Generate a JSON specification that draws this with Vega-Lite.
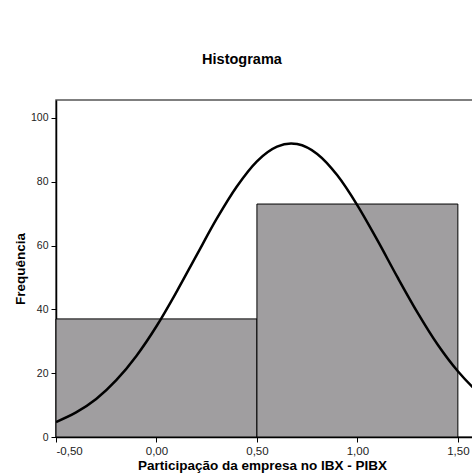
{
  "$schema": "https://vega.github.io/schema/vega-lite/v6.json",
  "width": 430,
  "height": 337,
  "autosize": {"type": "none"},
  "padding": {"left": 56, "top": 100, "right": 0, "bottom": 39},
  "background": "white",
  "config": {
    "locale": {"number": {"decimal": ",", "thousands": ".", "grouping": [3], "currency": ["", ""], "minus": "-"}},
    "view": {"stroke": "#555555", "strokeWidth": 1.5},
    "font": "Liberation Sans"
  },
  "title": {
    "text": "Histograma",
    "fontSize": 14.5,
    "fontWeight": "bold",
    "font": "Liberation Sans",
    "color": "black",
    "anchor": "middle",
    "dx": -29,
    "offset": 33
  },
  "datasets": {
    "bins": [
      {"bin_start": -0.5, "bin_end": 0.5, "count": 37},
      {"bin_start": 0.5, "bin_end": 1.5, "count": 73}
    ],
    "curve": [
      {"x": -0.5, "y": 4.7},
      {"x": -0.4, "y": 7.7},
      {"x": -0.3, "y": 11.9},
      {"x": -0.2, "y": 17.8},
      {"x": -0.1, "y": 25.4},
      {"x": 0.0, "y": 34.7},
      {"x": 0.1, "y": 45.5},
      {"x": 0.2, "y": 57.0},
      {"x": 0.3, "y": 68.4},
      {"x": 0.4, "y": 78.5},
      {"x": 0.5, "y": 86.4},
      {"x": 0.6, "y": 91.0},
      {"x": 0.67, "y": 92.0},
      {"x": 0.7, "y": 91.8},
      {"x": 0.8, "y": 88.7},
      {"x": 0.9, "y": 82.0},
      {"x": 1.0, "y": 72.6},
      {"x": 1.1, "y": 61.6},
      {"x": 1.2, "y": 50.0},
      {"x": 1.3, "y": 38.9},
      {"x": 1.4, "y": 28.9},
      {"x": 1.5, "y": 20.6},
      {"x": 1.6, "y": 14.1},
      {"x": 1.7, "y": 9.3}
    ]
  },
  "layer": [
    {
      "data": {"name": "bins"},
      "mark": {"type": "rect", "fill": "#a09ea0", "stroke": "black", "strokeWidth": 1},
      "encoding": {
        "x": {
          "field": "bin_start",
          "type": "quantitative",
          "scale": {"domain": [-0.5, 1.64], "nice": false, "zero": false},
          "axis": {
            "values": [-0.5, 0, 0.5, 1, 1.5],
            "format": ".2f",
            "title": "Participação da empresa no IBX - PIBX",
            "titleFontSize": 13.5,
            "titleFontWeight": "bold",
            "titleColor": "black",
            "titleFont": "Liberation Sans",
            "titlePadding": 2,
            "titleX": 206,
            "labelFontSize": 11.5,
            "labelColor": "#222222",
            "labelFont": "Liberation Sans",
            "labelPadding": 3,
            "tickSize": 5,
            "tickColor": "black",
            "domainColor": "black",
            "domainWidth": 1.5,
            "grid": false
          }
        },
        "x2": {"field": "bin_end"},
        "y": {
          "field": "count",
          "type": "quantitative",
          "scale": {"domain": [0, 105.6], "nice": false},
          "axis": {
            "values": [0, 20, 40, 60, 80, 100],
            "format": "d",
            "title": "Frequência",
            "titleFontSize": 13.5,
            "titleFontWeight": "bold",
            "titleColor": "black",
            "titleFont": "Liberation Sans",
            "titlePadding": 3,
            "labelFontSize": 10.5,
            "labelColor": "#222222",
            "labelFont": "Liberation Sans",
            "labelPadding": 3,
            "tickSize": 5,
            "tickColor": "black",
            "domainColor": "black",
            "domainWidth": 1.5,
            "grid": false
          }
        },
        "y2": {"datum": 0}
      }
    },
    {
      "data": {"name": "curve"},
      "mark": {"type": "line", "color": "black", "strokeWidth": 2.5, "interpolate": "monotone", "clip": true},
      "encoding": {
        "x": {"field": "x", "type": "quantitative"},
        "y": {"field": "y", "type": "quantitative"}
      }
    }
  ]
}
